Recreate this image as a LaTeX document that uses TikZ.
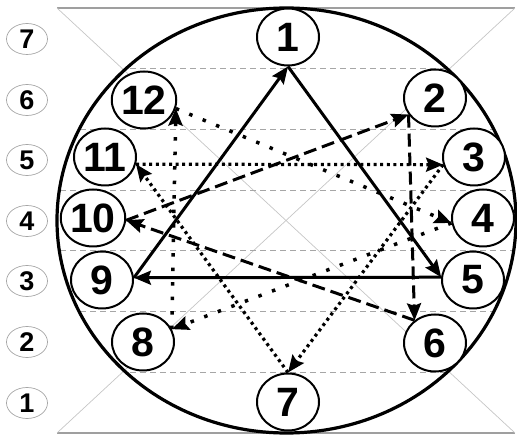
\documentclass[tikz,border=0pt]{standalone}
\usepackage{fontspec}
\setmainfont{Liberation Sans}
\usetikzlibrary{arrows.meta,shapes.geometric}
\tikzset{
    ponto/.style={
        ellipse,
        draw,
        line width=2pt,
        fill=white,
        inner sep=0pt,
        minimum width=62pt,
        minimum height=57pt,
        font=\fontsize{41}{41}\selectfont\bfseries
    },
    legenda/.style={
        ellipse,
        draw=gray!70,
        line width=0.7pt,
        inner sep=0pt,
        minimum width=41pt,
        minimum height=31pt,
        font=\fontsize{27}{27}\selectfont\bfseries
    },
    faixa/.style={gray!70, line width=1pt, dash pattern=on 6pt off 4pt},
    diagonal/.style={gray!45, line width=0.7pt},
    borda/.style={gray!75, line width=1.8pt},
    ponta/.style={-{Stealth[length=17pt,width=14pt,inset=2.5pt]}},
    linhaCheia/.style={ponta, line width=3pt},
    linhaTracejada/.style={ponta, line width=3pt, dash pattern=on 13pt off 6pt},
    linhaPontilhada/.style={ponta, line width=3.2pt, dash pattern=on 3pt off 3.6pt},
    linhaEsparsa/.style={ponta, line width=3.5pt, dash pattern=on 3.5pt off 11pt}
}

\begin{document}
\begin{tikzpicture}[x=1pt, y=1pt]
    \useasboundingbox (0,0) rectangle (517,436);
    \draw[borda] (57,428) -- (515,428);
    \draw[borda] (57,3) -- (515,3);
    \draw[diagonal] (57,428) -- (515,3);
    \draw[diagonal] (515,428) -- (57,3);
    \begin{scope}
        \clip (286.5,215.5) ellipse [x radius=229.5pt, y radius=212.5pt];
        \foreach \k in {1,...,6}
            \draw[faixa] (40,{428-60.7*\k}) -- (530,{428-60.7*\k});
    \end{scope}
    \draw[line width=3.2pt] (286.5,215.5) ellipse [x radius=229.5pt, y radius=212.5pt];

    \node[legenda] (e7) at (27,397) {7};
    \node[legenda] (e6) at (27,336) {6};
    \node[legenda] (e5) at (27,276) {5};
    \node[legenda] (e4) at (27,215) {4};
    \node[legenda] (e3) at (27,155) {3};
    \node[legenda] (e2) at (27,94) {2};
    \node[legenda] (e1) at (27,33) {1};

    \node[ponto] (p1) at (288,399) {1};
    \node[ponto] (p2) at (435,338) {2};
    \node[ponto] (p3) at (474,279) {3};
    \node[ponto] (p4) at (483,218) {4};
    \node[ponto] (p5) at (473,156) {5};
    \node[ponto] (p6) at (435,93) {6};
    \node[ponto] (p7) at (288,34) {7};
    \node[ponto] (p8) at (143,94) {8};
    \node[ponto] (p9) at (102,156) {9};
    \node[ponto] (p10) at (93,218) {10};
    \node[ponto] (p11) at (105,279) {11};
    \node[ponto] (p12) at (144,336) {12};

    \draw[linhaCheia] (p9.4) -- (p1.270);
    \draw[linhaCheia] (p1.270) -- (p5.175);
    \draw[linhaCheia] (p5.175) -- (p9.4);
    \draw[linhaTracejada] (p10.356) -- (p2.212);
    \draw[linhaTracejada] (p2.212) -- (p6.132);
    \draw[linhaTracejada] (p6.132) -- (p10.356);
    \draw[linhaPontilhada] (p11.347) -- (p3.194);
    \draw[linhaPontilhada] (p3.194) -- (p7.90);
    \draw[linhaPontilhada] (p7.90) -- (p11.347);
    \draw[linhaEsparsa] (p12.345) -- (p4.189);
    \draw[linhaEsparsa] (p4.189) -- (p8.24);
    \draw[linhaEsparsa] (p8.24) -- (p12.345);
\end{tikzpicture}
\end{document}
